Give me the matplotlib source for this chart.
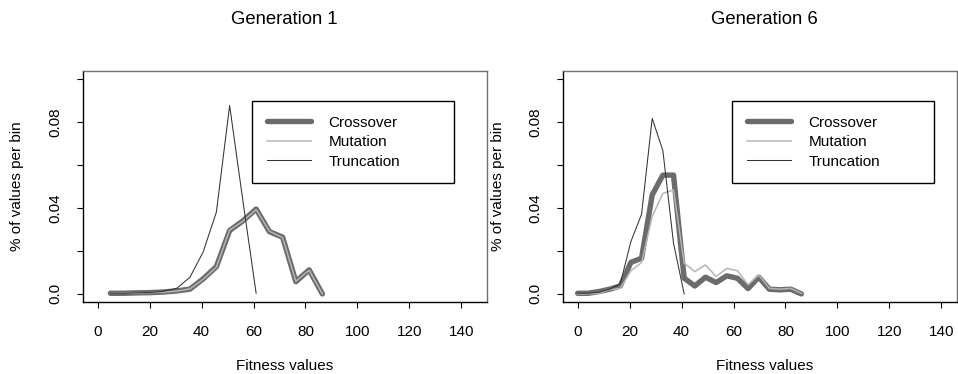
import numpy as np
import matplotlib
matplotlib.use('Agg')
import matplotlib.pyplot as plt

plt.rcParams['font.family'] = ['Liberation Sans', 'DejaVu Sans']

# -------- data --------
# Generation 1: fitness bin centres and share of values per bin
gen1_x = [4.9, 10.0, 15.1, 20.2, 25.3, 30.4, 35.5, 40.6, 45.7, 50.8,
          55.9, 61.0, 66.1, 71.2, 76.3, 81.4, 86.5]
gen1_crossover = [0.0003, 0.0003, 0.0005, 0.0006, 0.0009, 0.0014, 0.0022, 0.0070, 0.0127,
                  0.0295, 0.0340, 0.0395, 0.0290, 0.0264, 0.0057, 0.0112, 0.0000]
gen1_mutation = [0.0003, 0.0003, 0.0004, 0.0006, 0.0008, 0.0013, 0.0023, 0.0068, 0.0125,
                 0.0297, 0.0338, 0.0393, 0.0292, 0.0262, 0.0059, 0.0110, 0.0000]
gen1_trunc_x = gen1_x[:12]
gen1_truncation = [0.0003, 0.0003, 0.0005, 0.0007, 0.0012, 0.0026, 0.0077, 0.0195, 0.0381,
                   0.0877, 0.0434, 0.0003]

# Generation 6
gen6_x = [0.0, 4.1, 8.2, 12.3, 16.4, 20.5, 24.6, 28.7, 32.8, 36.9, 41.0,
          45.1, 49.2, 53.3, 57.4, 61.5, 65.6, 69.7, 73.8, 77.9, 82.0, 86.1]
gen6_crossover = [0.0003, 0.0003, 0.0011, 0.0022, 0.0037, 0.0147, 0.0166, 0.0461, 0.0553,
                  0.0553, 0.0073, 0.0037, 0.0078, 0.0053, 0.0084, 0.0073, 0.0025, 0.0078,
                  0.0022, 0.0019, 0.0022, 0.0000]
gen6_mutation = [0.0000, 0.0000, 0.0003, 0.0019, 0.0026, 0.0108, 0.0146, 0.0360, 0.0468,
                 0.0484, 0.0143, 0.0104, 0.0135, 0.0081, 0.0119, 0.0108, 0.0042, 0.0088,
                 0.0026, 0.0022, 0.0026, 0.0003]
gen6_trunc_x = gen6_x[:11]
gen6_truncation = [0.0003, 0.0003, 0.0008, 0.0022, 0.0047, 0.0244, 0.0371, 0.0817, 0.0667,
                   0.0236, 0.0000]

titles = ['Generation 1', 'Generation 6']
series_labels = ['Crossover', 'Mutation', 'Truncation']
x_ticks = [0, 20, 40, 60, 80, 100, 120, 140]
y_ticks = [0.0, 0.02, 0.04, 0.06, 0.08, 0.10]
y_ticklabels = ['0.0', '', '0.04', '', '0.08', '']

panels = [
    (gen1_x, gen1_crossover, gen1_mutation, gen1_trunc_x, gen1_truncation),
    (gen6_x, gen6_crossover, gen6_mutation, gen6_trunc_x, gen6_truncation),
]

# -------- styles / layout (pixels at 100 dpi) --------
c_cross = '#6b6b6b'
c_mut = '#b5b5b5'
c_trunc = '#333333'
fs = 11
W, H = 958, 374
px_per_unit = 404 / 155.52
box_left = [82.7, 562.7]
box_width = [404.0, 394.3]   # second panel is cut by the image edge
box_bottom, box_height = 302.3, 231.6

fig = plt.figure(figsize=(W / 100, H / 100), dpi=100, facecolor='white')

for i, (title, (x, cross, mut, tx, trunc)) in enumerate(zip(titles, panels)):
    bw = box_width[i]
    ax = fig.add_axes([box_left[i] / W, (H - box_bottom) / H, bw / W, box_height / H])
    l1, = ax.plot(x, cross, color=c_cross, lw=3.9, solid_capstyle='round',
                  solid_joinstyle='round', label=series_labels[0])
    l2, = ax.plot(x, mut, color=c_mut, lw=1.1, solid_joinstyle='round',
                  label=series_labels[1])
    l3, = ax.plot(tx, trunc, color=c_trunc, lw=0.75, label=series_labels[2])

    ax.set_xlim(-5.76, -5.76 + bw / px_per_unit)
    ax.set_ylim(-0.0039, 0.1039)
    ax.set_xticks(x_ticks)
    ax.set_xticklabels([str(t) for t in x_ticks], fontsize=fs)
    ax.set_yticks(y_ticks)
    ax.set_yticklabels(y_ticklabels, fontsize=fs, rotation=90, va='center')
    ax.tick_params(axis='x', length=4.5, width=0.8, pad=12, direction='out')
    ax.tick_params(axis='y', length=4.5, width=0.8, pad=10, direction='out')

    for sp in ax.spines.values():
        sp.set_color('#6f6f6f')
        sp.set_linewidth(1.0)
    ax.spines['left'].set_color('black')
    ax.spines['bottom'].set_color('black')

    # titles and axis labels placed like R's outer margins
    ax.text(202.0 / bw, 1.219, title, transform=ax.transAxes, fontsize=13.3,
            ha='center', va='center')
    ax.text(202.0 / bw, -0.275, 'Fitness values', transform=ax.transAxes, fontsize=fs,
            ha='center', va='center')
    ax.text(-65.2 / bw, 0.5, '% of values per bin', transform=ax.transAxes, fontsize=fs,
            ha='center', va='center', rotation=90)

    leg = ax.legend(handles=[l1, l2, l3], loc='upper left',
                    bbox_to_anchor=(169.6 / bw, 0.5164, 202.0 / bw, 0.3528), mode='expand',
                    fontsize=fs, frameon=True, fancybox=False, framealpha=1,
                    edgecolor='black', borderpad=0.95, labelspacing=0.36,
                    handlelength=2.9, handletextpad=1.15, borderaxespad=0)
    leg.get_frame().set_linewidth(1.0)

fig.savefig('out.png', dpi=100, facecolor='white')
